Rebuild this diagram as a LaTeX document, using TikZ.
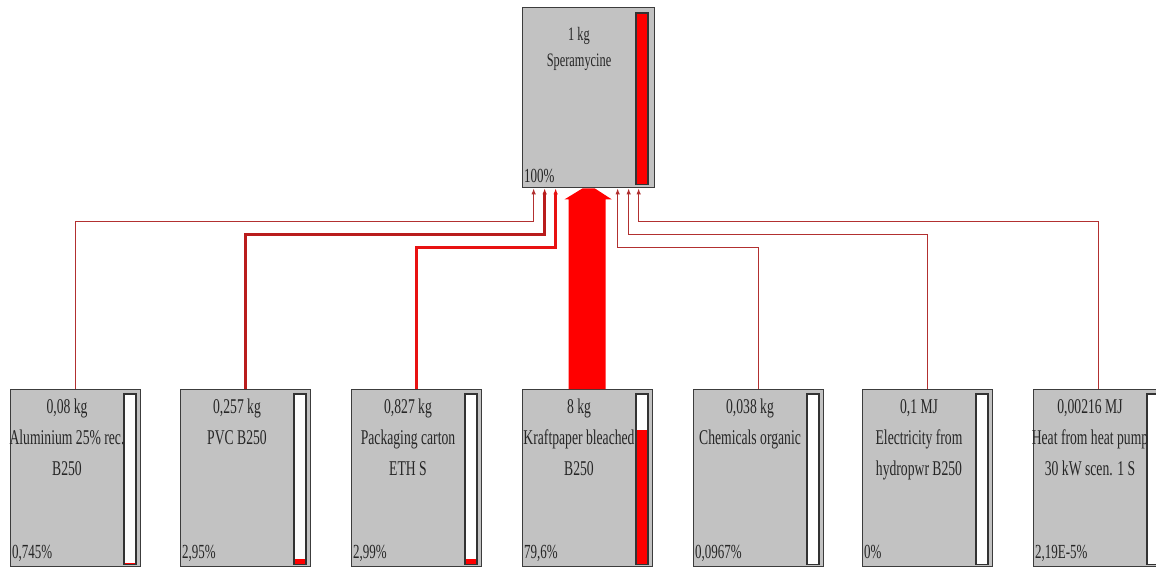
\documentclass[tikz,border=0pt]{standalone}
\usepackage{fontspec}
\usetikzlibrary{arrows.meta}
\newfontfamily\lbl[FakeStretch=0.65]{Liberation Serif}
\definecolor{boxgray}{RGB}{194,194,194}
\definecolor{boxedge}{RGB}{60,60,60}
\definecolor{thinred}{RGB}{178,48,48}
\definecolor{pvcred}{RGB}{185,28,28}
\definecolor{packred}{RGB}{232,18,18}
\definecolor{bigred}{RGB}{255,0,0}
\tikzset{
  procbox/.style={draw=boxedge, line width=1.3pt, fill=boxgray, rectangle, inner sep=0pt,
    minimum width=130pt, minimum height=177pt, anchor=north west},
  topbox/.style={procbox, minimum width=132pt, minimum height=180pt},
  lbltext/.style={anchor=north, align=center, inner sep=0pt, text=black!85,
    font=\lbl\fontsize{21}{31}\selectfont},
  toptext/.style={lbltext, font=\lbl\fontsize{19}{26}\selectfont},
  pcttext/.style={anchor=base west, inner sep=0pt, text=black!85,
    font=\lbl\fontsize{20}{24}\selectfont},
  barframe/.style={draw=black!80, line width=1.3pt},
  link/.style={-{Latex[length=6pt,width=4.5pt]}},
  thinl/.style={link, draw=thinred, line width=1.4pt},
  pvcl/.style={link, draw=pvcred, line width=2.8pt},
  packl/.style={link, draw=packred, line width=3.4pt},
}
% bar: #1 node name, #2 filled height
\newcommand\pbar[2]{%
  \fill[white] ([shift={(114,5)}]#1.north west) rectangle ([shift={(126,-3)}]#1.south west);
  \fill[bigred] ([shift={(114,-3)}]#1.south west) rectangle ([shift={(126,-3-#2)}]#1.south west);
  \draw[barframe] ([shift={(114,5)}]#1.north west) rectangle ([shift={(126,-3)}]#1.south west);
}
\begin{document}
\begin{tikzpicture}[x=1pt,y=-1pt]
\useasboundingbox (0,0) rectangle (1156,567);
\clip (0,0) rectangle (1156,567);
\fill[white] (0,0) rectangle (1156,567);

% top box
\node[topbox] (top) at (522,7) {};
\fill[bigred] ([shift={(114,6)}]top.north west) rectangle ([shift={(126,-4)}]top.south west);
\draw[barframe] ([shift={(114,6)}]top.north west) rectangle ([shift={(126,-4)}]top.south west);
\node[toptext] (toplbl) at ([shift={(57,20)}]top.north west) {1 kg\\Speramycine};
\node[pcttext] (toppct) at ([shift={(2,-6)}]top.south west) {100\%};

% bottom boxes
\node[procbox] (b1) at (10,389) {};
\node[procbox] (b2) at (180,389) {};
\node[procbox] (b3) at (351,389) {};
\node[procbox] (b4) at (522,389) {};
\node[procbox] (b5) at (693,389) {};
\node[procbox] (b6) at (862,389) {};
\node[procbox] (b7) at (1033,389) {};

\pbar{b1}{1.3}
\pbar{b2}{5}
\pbar{b3}{5}
\pbar{b4}{134.5}
\pbar{b5}{0}
\pbar{b6}{0}
\pbar{b7}{0}

\node[lbltext] (t1) at ([shift={(57,10)}]b1.north west) {0,08 kg\\Aluminium 25\% rec.\\B250};
\node[lbltext] (t2) at ([shift={(57,10)}]b2.north west) {0,257 kg\\PVC B250};
\node[lbltext] (t3) at ([shift={(57,10)}]b3.north west) {0,827 kg\\Packaging carton\\ETH S};
\node[lbltext] (t4) at ([shift={(57,10)}]b4.north west) {8 kg\\Kraftpaper bleached\\B250};
\node[lbltext] (t5) at ([shift={(57,10)}]b5.north west) {0,038 kg\\Chemicals organic};
\node[lbltext] (t6) at ([shift={(57,10)}]b6.north west) {0,1 MJ\\Electricity from\\hydropwr B250};
\node[lbltext] (t7) at ([shift={(57,10)}]b7.north west) {0,00216 MJ\\Heat from heat pump\\30 kW scen. 1 S};

\node[pcttext] (p1) at ([shift={(2,-9)}]b1.south west) {0,745\%};
\node[pcttext] (p2) at ([shift={(2,-9)}]b2.south west) {2,95\%};
\node[pcttext] (p3) at ([shift={(2,-9)}]b3.south west) {2,99\%};
\node[pcttext] (p4) at ([shift={(2,-9)}]b4.south west) {79,6\%};
\node[pcttext] (p5) at ([shift={(2,-9)}]b5.south west) {0,0967\%};
\node[pcttext] (p6) at ([shift={(2,-9)}]b6.south west) {0\%};
\node[pcttext] (p7) at ([shift={(2,-9)}]b7.south west) {2,19E-5\%};

% connectors
\draw[thinl] (b1.north) |- ([shift={(-55,33)}]top.south) -- ([shift={(-55,0)}]top.south);
\draw[pvcl]  (b2.north) |- ([shift={(-44,46)}]top.south) -- ([shift={(-44,0)}]top.south);
\draw[packl] (b3.north) |- ([shift={(-33,59)}]top.south) -- ([shift={(-33,0)}]top.south);
\draw[thinl] (b5.north) |- ([shift={(29,59)}]top.south) -- ([shift={(29,0)}]top.south);
\draw[thinl] (b6.north) |- ([shift={(40,46)}]top.south) -- ([shift={(40,0)}]top.south);
\draw[thinl] (b7.north) |- ([shift={(50,33)}]top.south) -- ([shift={(50,0)}]top.south);

% big arrow
\coordinate (hsh) at ([shift={(0,11)}]top.south);
\coordinate (kl) at ([shift={(-19,0)}]b4.north);
\coordinate (kr) at ([shift={(18,0)}]b4.north);
\fill[bigred] (kl) -- (kl |- hsh) -- ([shift={(-24,11)}]top.south) -- ([shift={(-6,0)}]top.south)
  -- ([shift={(6,0)}]top.south) -- ([shift={(23,11)}]top.south) -- (kr |- hsh) -- (kr) -- cycle;
\end{tikzpicture}
\end{document}
